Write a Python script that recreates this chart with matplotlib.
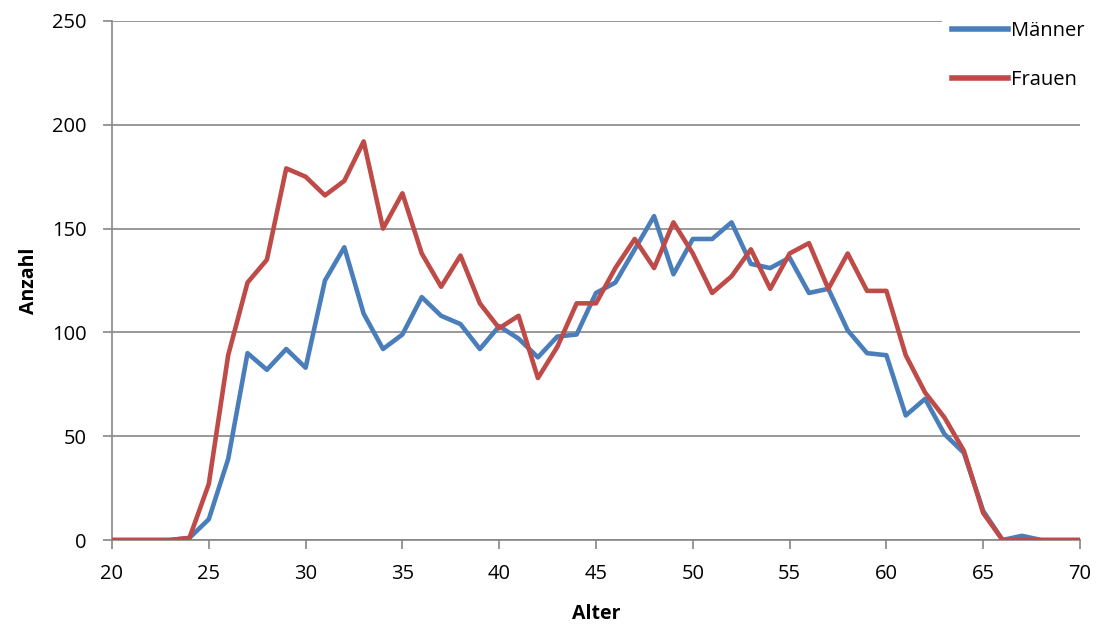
import matplotlib.pyplot as plt

alter = list(range(20, 71))

maenner = [0, 0, 0, 0, 1, 10, 39, 90, 82, 92,
           83, 125, 141, 109, 92, 99, 117, 108, 104, 92,
           103, 97, 88, 98, 99, 119, 124, 140, 156, 128,
           145, 145, 153, 133, 131, 136, 119, 121, 101, 90,
           89, 60, 68, 51, 42, 14, 0, 2, 0, 0,
           0]

frauen = [0, 0, 0, 0, 1, 27, 89, 124, 135, 179,
          175, 166, 173, 192, 150, 167, 138, 122, 137, 114,
          102, 108, 78, 93, 114, 114, 131, 145, 131, 153,
          138, 119, 127, 140, 121, 138, 143, 121, 138, 120,
          120, 89, 71, 59, 43, 13, 0, 0, 0, 0,
          0]

plt.rcParams['font.family'] = ['Open Sans', 'DejaVu Sans']

fig = plt.figure(figsize=(11.04, 6.28), dpi=100)
ax = fig.add_axes([112/1104, 1 - 540/628, (1080-112)/1104, (540-21)/628])

ax.plot(alter, maenner, color='#4A7EBB', lw=3.3, label='Männer', zorder=3)
ax.plot(alter, frauen, color='#BE4B48', lw=3.3, label='Frauen', zorder=4)

ax.set_xlim(20, 70)
ax.set_ylim(0, 250)
ax.set_xticks(range(20, 71, 5))
ax.set_yticks(range(0, 251, 50))
ax.yaxis.grid(True, color='#868686', lw=1.2)
ax.set_axisbelow(True)

for s in ['top', 'right']:
    ax.spines[s].set_visible(False)
for s in ['left', 'bottom']:
    ax.spines[s].set_color('#868686')
    ax.spines[s].set_linewidth(1.2)
ax.tick_params(colors='#868686', labelcolor='black', labelsize=14.5, length=6.5, width=1.2)
ax.tick_params(axis='x', pad=11)
ax.tick_params(axis='y', pad=12)

ax.set_xlabel('Alter', fontsize=14, fontweight='bold', labelpad=14)
ax.set_ylabel('Anzahl', fontsize=14, fontweight='bold', labelpad=9)

leg = ax.legend(loc='upper left', bbox_to_anchor=(942/1104, 1 - 11/628),
                bbox_transform=fig.transFigure, fontsize=14.5, frameon=True,
                handlelength=2.8, labelspacing=1.45, handletextpad=0.15,
                borderaxespad=0, borderpad=0.5)
leg.get_frame().set_facecolor('white')
leg.get_frame().set_edgecolor('none')
leg.get_frame().set_alpha(1)
leg.set_zorder(5)
for line in leg.get_lines():
    line.set_linewidth(4)

fig.savefig('out.png', dpi=100)
